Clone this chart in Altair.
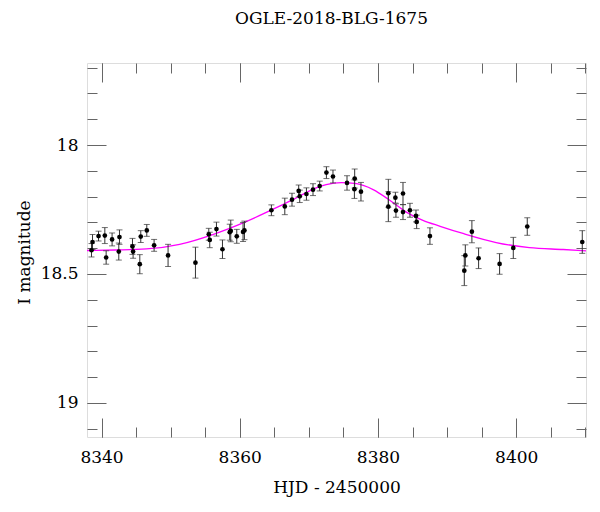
import altair as alt
import pandas as pd

# ---- data ----
hjd = [8338.55, 8338.70, 8339.57, 8340.48, 8340.67, 8341.53, 8342.50, 8342.60,
       8344.48, 8344.57, 8345.54, 8345.68, 8346.55, 8347.61, 8349.63, 8353.59,
       8355.52, 8355.66, 8356.63, 8357.50, 8358.55, 8358.70, 8359.57, 8360.48,
       8360.68, 8364.58, 8366.52, 8367.56, 8368.53, 8368.68, 8369.65, 8370.60,
       8371.57, 8372.54, 8373.49, 8375.52, 8376.63, 8376.59, 8377.54, 8381.50,
       8381.50, 8382.52, 8382.60, 8383.62, 8383.62, 8384.63, 8385.50, 8385.60,
       8387.52, 8392.49, 8392.64, 8393.59, 8394.56, 8397.60, 8399.58, 8401.60,
       8409.56]
mag = [18.408, 18.376, 18.353, 18.351, 18.436, 18.366, 18.413, 18.357,
       18.393, 18.413, 18.462, 18.355, 18.331, 18.389, 18.428, 18.456,
       18.346, 18.368, 18.326, 18.404, 18.338, 18.333, 18.354, 18.337,
       18.331, 18.253, 18.238, 18.212, 18.178, 18.199, 18.190, 18.173,
       18.159, 18.107, 18.122, 18.147, 18.130, 18.171, 18.181, 18.187,
       18.239, 18.204, 18.254, 18.188, 18.260, 18.253, 18.275, 18.298,
       18.353, 18.487, 18.428, 18.336, 18.439, 18.461, 18.399, 18.316,
       18.376]
err = [0.026, 0.029, 0.019, 0.031, 0.026, 0.025, 0.033, 0.028,
       0.031, 0.026, 0.037, 0.023, 0.023, 0.023, 0.043, 0.060,
       0.023, 0.030, 0.027, 0.036, 0.031, 0.042, 0.027, 0.037,
       0.036, 0.021, 0.032, 0.025, 0.023, 0.024, 0.024, 0.023,
       0.019, 0.023, 0.025, 0.028, 0.037, 0.036, 0.036, 0.054,
       0.058, 0.021, 0.026, 0.043, 0.029, 0.027, 0.023, 0.026,
       0.032, 0.058, 0.041, 0.043, 0.040, 0.040, 0.041, 0.034,
       0.044]

model_hjd = [8337.9, 8342.0, 8346.5, 8351.3, 8356.1, 8361.0, 8365.3, 8367.7,
             8370.1, 8372.5, 8374.7, 8376.9, 8379.3, 8381.7, 8384.1, 8386.5,
             8389.0, 8392.3, 8397.1, 8401.9, 8406.8, 8410.1]
model_mag = [18.409, 18.407, 18.403, 18.385, 18.347, 18.296, 18.243, 18.212,
             18.178, 18.154, 18.146, 18.150, 18.173, 18.214, 18.260, 18.292,
             18.315, 18.343, 18.378, 18.398, 18.405, 18.410]

x_major = [8340, 8360, 8380, 8400]
x_minor = [8340, 8345, 8350, 8355, 8360, 8365, 8370, 8375, 8380, 8385,
           8390, 8395, 8400, 8405, 8410]
y_major = [18, 18.5, 19]
y_minor = [17.7, 17.8, 17.9, 18.0, 18.1, 18.2, 18.3, 18.4, 18.5, 18.6,
           18.7, 18.8, 18.9, 19.0, 19.1]

title_text = "OGLE-2018-BLG-1675"
x_title = "HJD - 2450000"
y_title = "I magnitude"

obs = pd.DataFrame({"hjd": hjd, "mag": mag, "err": err})
obs["lo"] = obs["mag"] - obs["err"]
obs["hi"] = obs["mag"] + obs["err"]
model = pd.DataFrame({"hjd": model_hjd, "mag": model_mag})

FONT = "DejaVu Serif"
TICK = "#666666"
xs = alt.Scale(domain=[8337.9, 8410.1], nice=False, zero=False)
ys = alt.Scale(domain=[17.682, 19.132], reverse=True, nice=False, zero=False)


def ax(orient, values, size, labels=False, **kw):
    return alt.Axis(orient=orient, values=values, tickSize={"expr": str(-size)},
                    labels=labels, domain=False, grid=False, tickColor=TICK,
                    tickWidth=1, **kw)


x_bot_major = ax("bottom", x_major, 19, labels=True, labelPadding=31,
                 labelFont=FONT, labelFontSize=17, labelColor="black",
                 format="d", labelFlush=False, title=x_title, titleFont=FONT,
                 titleFontSize=17, titleFontWeight="normal", titleColor="black",
                 titleBaseline="alphabetic", titleY=55)
y_left_major = ax("left", y_major, 19, labels=True, labelPadding=28,
                  labelFont=FONT, labelFontSize=17, labelColor="black",
                  format="~g", labelFlush=False, title=y_title, titleFont=FONT,
                  titleFontSize=17, titleFontWeight="normal", titleColor="black",
                  titleBaseline="alphabetic", titleAlign="center",
                  titleX=-58, titleY=189)
x_bot_minor = ax("bottom", x_minor, 10, title=None)
y_left_minor = ax("left", y_minor, 10, title=None)
x_top_major = ax("top", x_major, 19, title=None)
y_right_major = ax("right", y_major, 19, title=None)
x_top_minor = ax("top", x_minor, 10, title=None)
y_right_minor = ax("right", y_minor, 10, title=None)

curve = alt.Chart(model).mark_line(color="#ff00ff", strokeWidth=1.3,
                                   interpolate="monotone").encode(
    x=alt.X("hjd:Q", scale=xs, axis=x_bot_major),
    y=alt.Y("mag:Q", scale=ys, axis=y_left_major),
)
bars = alt.Chart(obs).mark_rule(color="#333333", strokeWidth=1).encode(
    x=alt.X("hjd:Q", scale=xs, axis=x_bot_minor),
    y=alt.Y("lo:Q", scale=ys, axis=y_left_minor),
    y2="hi:Q",
)
cap_lo = alt.Chart(obs).mark_tick(color="#333333", orient="horizontal",
                                  size=6, thickness=1).encode(
    x=alt.X("hjd:Q", scale=xs, axis=x_top_minor),
    y=alt.Y("lo:Q", scale=ys, axis=y_right_minor),
)
cap_hi = alt.Chart(obs).mark_tick(color="#333333", orient="horizontal",
                                  size=6, thickness=1).encode(
    x=alt.X("hjd:Q", scale=xs, axis=None),
    y=alt.Y("hi:Q", scale=ys, axis=None),
)
points = alt.Chart(obs).mark_circle(color="black", size=22, opacity=1).encode(
    x=alt.X("hjd:Q", scale=xs, axis=x_top_major),
    y=alt.Y("mag:Q", scale=ys, axis=y_right_major),
)

chart = alt.layer(curve, bars, cap_lo, cap_hi, points).resolve_axis(
    x="independent", y="independent"
).properties(
    width=499, height=374,
    title=alt.TitleParams(title_text, font=FONT, fontSize=17,
                          fontWeight="normal", color="black", anchor="middle",
                          frame="group", baseline="alphabetic", offset=22,
                          dx=-5),
    autosize=alt.AutoSizeParams(type="none"),
    padding={"left": 79, "top": 55, "right": 5, "bottom": 70},
).configure_view(stroke="black", strokeWidth=1.3).configure(background="white")

chart.save("out.html", embed_options={"renderer": "svg", "actions": False})
